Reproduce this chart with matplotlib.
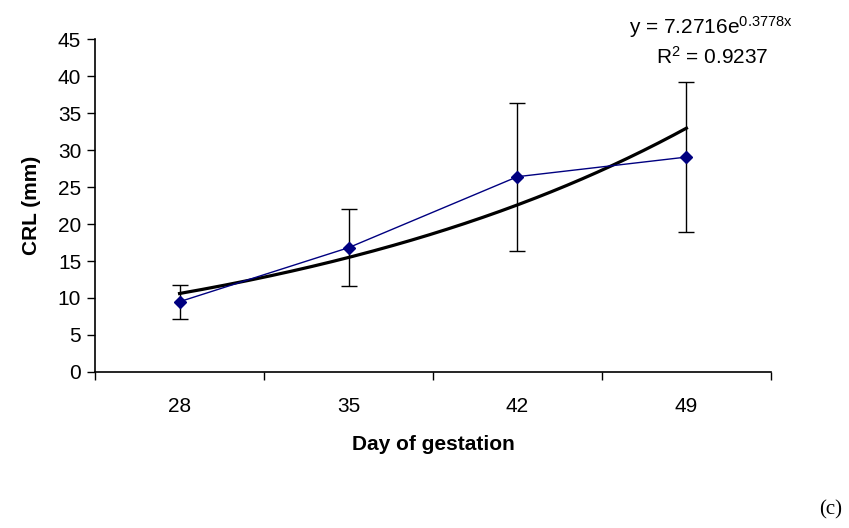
import numpy as np
import matplotlib
matplotlib.use("Agg")
import matplotlib.pyplot as plt

days = ["28", "35", "42", "49"]
crl = [9.5, 16.8, 26.4, 29.05]
crl_err = [2.3, 5.2, 10.0, 10.1]
trend_a = 7.2716
trend_b = 0.3778
r2 = 0.9237

plt.rcParams['font.family'] = ['Liberation Sans', 'DejaVu Sans']
plt.rcParams['mathtext.default'] = 'regular'

fig = plt.figure(figsize=(8.49, 5.28), dpi=100)
ax = fig.add_axes([0.112, 0.2955, 0.796, 0.6305])

x = np.arange(1, len(days) + 1)
ax.errorbar(x, crl, yerr=crl_err, fmt='none', ecolor='black', elinewidth=1,
            capsize=6, capthick=1, zorder=2)
ax.plot(x, crl, color='#000080', lw=1, marker='D', markersize=6.5,
        markerfacecolor='#000080', markeredgecolor='#000080', zorder=4)

xt = np.linspace(1, len(days), 200)
ax.plot(xt, trend_a * np.exp(trend_b * xt), color='black', lw=2.3, zorder=3)

ax.set_xlim(0.5, len(days) + 0.5)
ax.set_ylim(0, 45)
ax.set_yticks(np.arange(0, 46, 5))
ax.set_xticks(np.arange(0.5, len(days) + 1, 1))
ax.set_xticklabels([])
ax.set_xticks(x, minor=True)
ax.set_xticklabels(days, minor=True)
ax.tick_params(axis='x', which='minor', length=0, pad=18, labelsize=15)
ax.tick_params(axis='x', which='major', length=6, direction='out', width=1)
ax.tick_params(axis='y', length=6, direction='out', width=1, labelsize=15, pad=4)
for s in ['top', 'right']:
    ax.spines[s].set_visible(False)
for s in ['left', 'bottom']:
    ax.spines[s].set_linewidth(1.2)

ax.set_ylabel('CRL (mm)', fontsize=15, fontweight='bold', labelpad=12)
ax.set_xlabel('Day of gestation', fontsize=15, fontweight='bold', labelpad=14)

fig.text(711 / 849, 1 - 27 / 528, r'y = 7.2716e$^{0.3778x}$', ha='center', va='center', fontsize=15)
fig.text(712 / 849, 1 - 57 / 528, r'R$^{2}$ = %.4f' % r2, ha='center', va='center', fontsize=15)
fig.text(831 / 849, 1 - 510 / 528, '(c)', ha='center', va='center', fontsize=15,
         family=['Liberation Serif', 'DejaVu Serif'])

fig.savefig('out.png', dpi=100)
